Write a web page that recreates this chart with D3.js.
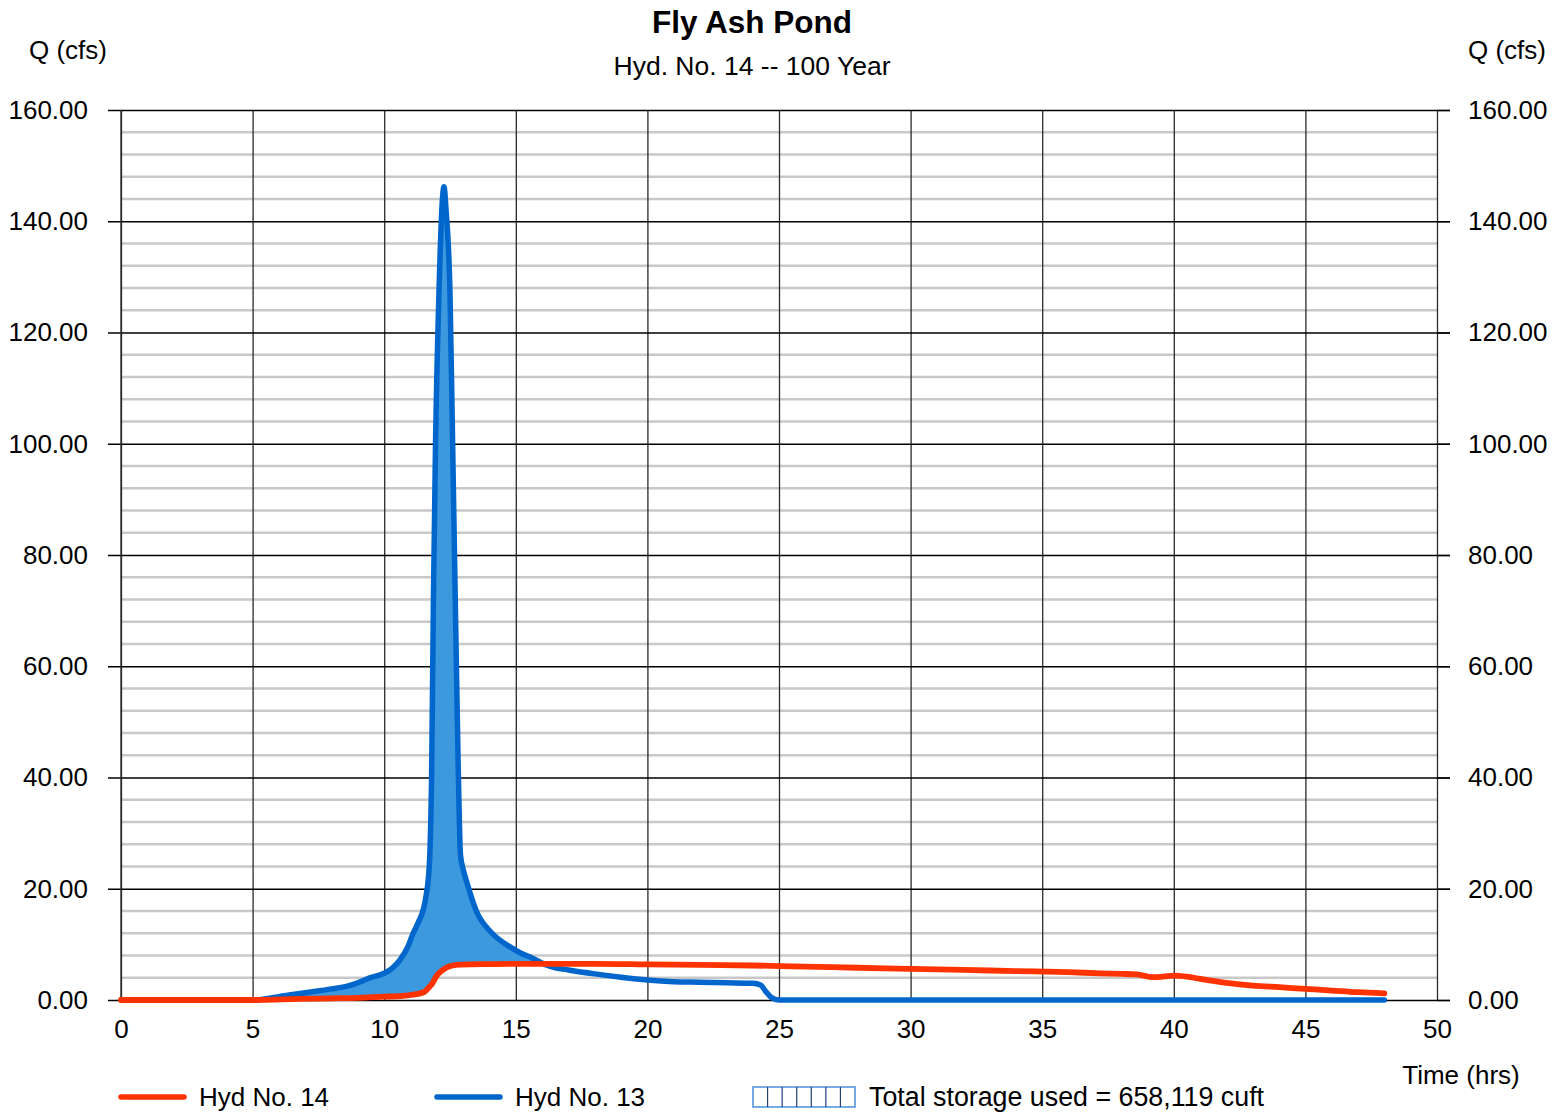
<!DOCTYPE html>
<html>
<head>
<meta charset="utf-8">
<script src="https://cdn.jsdelivr.net/npm/d3@7"></script>
<style>
  html, body { margin: 0; padding: 0; background: #fff; }
  svg { display: block; font-family: "Liberation Sans", Arial, sans-serif; }
</style>
</head>
<body>
<svg id="chart" width="1554" height="1112"></svg>
<script>
// Inflow hydrograph (Hyd No. 13): time (hrs) and discharge (cfs)
const inflowTime = [0, 5, 6, 7, 8, 8.6, 9, 9.4, 10, 10.3, 10.6, 10.9, 11.1, 11.3, 11.5, 11.6, 11.66, 11.74, 11.8, 11.87, 11.95, 12.08, 12.2, 12.27, 12.35, 12.5, 12.6, 12.7, 12.8, 12.9, 13.0, 13.15, 13.5, 14.1, 14.8, 15.2, 15.6, 16.1, 16.5, 17, 18, 19, 20, 21, 22, 23, 24, 24.3, 24.5, 24.7, 25, 48];
const inflowQ    = [0, 0, 0.6, 1.3, 2.0, 2.5, 3.1, 3.9, 4.8, 5.7, 7.2, 9.6, 12, 14, 16.5, 19, 21, 27, 40, 72, 100, 127, 143, 146.2, 142, 127, 100, 72, 45, 26, 23.5, 21, 16, 12, 9.5, 8.4, 7.6, 6.4, 5.8, 5.4, 4.7, 4.1, 3.6, 3.3, 3.2, 3.1, 3.0, 2.7, 1.5, 0.5, 0, 0];

// Outflow hydrograph (Hyd No. 14)
const outflowTime = [0, 5, 6.8, 8, 9, 10, 10.6, 11, 11.5, 11.65, 11.74, 11.82, 11.9, 12.0, 12.1, 12.2, 12.4, 12.6, 12.9, 14, 15, 16, 17, 18, 20, 22, 24, 26, 28, 30, 32, 34, 36, 37.2, 38, 38.6, 39.2, 39.6, 40, 40.5, 41, 42, 43, 44, 45, 46, 47, 48];
const outflowQ    = [0, 0, 0.2, 0.3, 0.4, 0.6, 0.7, 0.9, 1.4, 2.0, 2.5, 2.9, 3.6, 4.4, 4.9, 5.3, 5.9, 6.2, 6.35, 6.45, 6.5, 6.5, 6.5, 6.5, 6.4, 6.3, 6.2, 6.0, 5.8, 5.6, 5.4, 5.2, 5.0, 4.8, 4.7, 4.6, 4.1, 4.2, 4.4, 4.2, 3.8, 3.1, 2.6, 2.3, 2.0, 1.7, 1.4, 1.2];

// Axis ticks
const qMajorTicks = [0, 20, 40, 60, 80, 100, 120, 140, 160];
const qMinorTicks = d3.range(0, 161, 4).filter(v => v % 20 !== 0);
const timeTicks   = [0, 5, 10, 15, 20, 25, 30, 35, 40, 45, 50];

const storageText = "Total storage used = 658,119 cuft";

const plot = { left: 121, right: 1437, top: 110, bottom: 1000 };
const FS = 26;
const FONT = "Liberation Sans, Arial, sans-serif";

const svg = d3.select("#chart");

const x = d3.scaleLinear().domain([0, 50]).range([plot.left, plot.right]);
const y = d3.scaleLinear().domain([0, 160]).range([plot.bottom, plot.top]);

const inflow  = inflowTime.map((t, i) => ({ t, q: inflowQ[i] }));
const outflow = outflowTime.map((t, i) => ({ t, q: outflowQ[i] }));

// Minor horizontal grid
svg.append("g").selectAll("line").data(qMinorTicks).join("line")
  .attr("x1", plot.left).attr("x2", plot.right)
  .attr("y1", d => y(d)).attr("y2", d => y(d))
  .attr("stroke", "#c8c8c8").attr("stroke-width", 2.4);

// Vertical grid + bottom labels
const xAxis = svg.append("g")
  .attr("transform", `translate(0,${plot.bottom})`)
  .call(d3.axisBottom(x).tickValues(timeTicks).tickFormat(d3.format("d"))
        .tickSize(-(plot.bottom - plot.top)).tickPadding(20));
xAxis.select(".domain").remove();
xAxis.selectAll(".tick line").attr("stroke", "#2a2a2a").attr("stroke-width", 1.3);
xAxis.selectAll(".tick text").attr("font-size", FS).attr("fill", "#000").attr("font-family", FONT);

// Major horizontal grid (extends past both axes as tick marks) + left labels
const yAxisL = svg.append("g")
  .attr("transform", `translate(108,0)`)
  .call(d3.axisLeft(y).tickValues(qMajorTicks).tickFormat(d3.format(".2f"))
        .tickSize(-(1450 - 108)).tickPadding(20));
yAxisL.select(".domain").remove();
yAxisL.selectAll(".tick line").attr("stroke", "#000").attr("stroke-width", 1.3);
yAxisL.selectAll(".tick text").attr("font-size", FS).attr("fill", "#000").attr("font-family", FONT);

// Right labels
const yAxisR = svg.append("g")
  .attr("transform", `translate(${plot.right},0)`)
  .call(d3.axisRight(y).tickValues(qMajorTicks).tickFormat(d3.format(".2f"))
        .tickSize(13).tickPadding(18));
yAxisR.select(".domain").remove();
yAxisR.selectAll(".tick line").attr("stroke", "#000").attr("stroke-width", 1.3);
yAxisR.selectAll(".tick text").attr("font-size", FS).attr("fill", "#000").attr("font-family", FONT);

// Left vertical axis line
svg.append("line")
  .attr("x1", plot.left).attr("x2", plot.left)
  .attr("y1", plot.top).attr("y2", plot.bottom)
  .attr("stroke", "#2a2a2a").attr("stroke-width", 1.3);

const curve = d3.curveMonotoneX;

// Storage region: area under inflow, clipped to the region above outflow
svg.append("clipPath").attr("id", "aboveOutflow")
  .append("path")
  .attr("d", d3.area().curve(curve)
    .x(d => x(d.t)).y0(d => y(d.q)).y1(0)(outflow));

svg.append("path")
  .attr("clip-path", "url(#aboveOutflow)")
  .attr("d", d3.area().curve(curve)
    .x(d => x(d.t)).y0(y(0)).y1(d => y(d.q))(inflow))
  .attr("fill", "#3d99de");

const line = d3.line().curve(curve).x(d => x(d.t)).y(d => y(d.q));

svg.append("path").attr("d", line(inflow))
  .attr("fill", "none").attr("stroke", "#0066cc").attr("stroke-width", 5.5)
  .attr("stroke-linecap", "round").attr("stroke-linejoin", "round");

svg.append("path").attr("d", line(outflow))
  .attr("fill", "none").attr("stroke", "#ff3300").attr("stroke-width", 5.8)
  .attr("stroke-linecap", "round").attr("stroke-linejoin", "round");

// Titles
svg.append("text").attr("x", 752).attr("y", 33).attr("text-anchor", "middle")
  .attr("font-size", 31.5).attr("font-weight", "bold").text("Fly Ash Pond");
svg.append("text").attr("x", 752).attr("y", 75).attr("text-anchor", "middle")
  .attr("font-size", FS + 0.5).text("Hyd. No. 14 -- 100 Year");

svg.append("text").attr("x", 68).attr("y", 59).attr("text-anchor", "middle")
  .attr("font-size", FS).text("Q (cfs)");
svg.append("text").attr("x", 1507).attr("y", 59).attr("text-anchor", "middle")
  .attr("font-size", FS).text("Q (cfs)");
svg.append("text").attr("x", 1461).attr("y", 1084).attr("text-anchor", "middle")
  .attr("font-size", FS).text("Time (hrs)");

// Legend
const legend = svg.append("g");
const legendItems = [
  { label: "Hyd No. 14", color: "#ff3300", x0: 121 },
  { label: "Hyd No. 13", color: "#0066cc", x0: 437 }
];
legendItems.forEach(it => {
  legend.append("line").attr("x1", it.x0).attr("x2", it.x0 + 63)
    .attr("y1", 1097).attr("y2", 1097)
    .attr("stroke", it.color).attr("stroke-width", 5.5).attr("stroke-linecap", "round");
  legend.append("text").attr("x", it.x0 + 78).attr("y", 1106)
    .attr("font-size", FS).text(it.label);
});

const sx0 = 753, sx1 = 855, sy0 = 1087, sy1 = 1107;
legend.append("rect").attr("x", sx0).attr("y", sy0)
  .attr("width", sx1 - sx0).attr("height", sy1 - sy0)
  .attr("fill", "#fff").attr("stroke", "#4a8fd6").attr("stroke-width", 1.5);
legend.selectAll("line.cell").data(d3.range(1, 7)).join("line")
  .attr("class", "cell")
  .attr("x1", k => sx0 + k * (sx1 - sx0) / 7).attr("x2", k => sx0 + k * (sx1 - sx0) / 7)
  .attr("y1", sy0).attr("y2", sy1)
  .attr("stroke", "#23407a").attr("stroke-width", 1.2);
legend.append("text").attr("x", 869).attr("y", 1106)
  .attr("font-size", 26.8).text(storageText);
</script>
</body>
</html>
